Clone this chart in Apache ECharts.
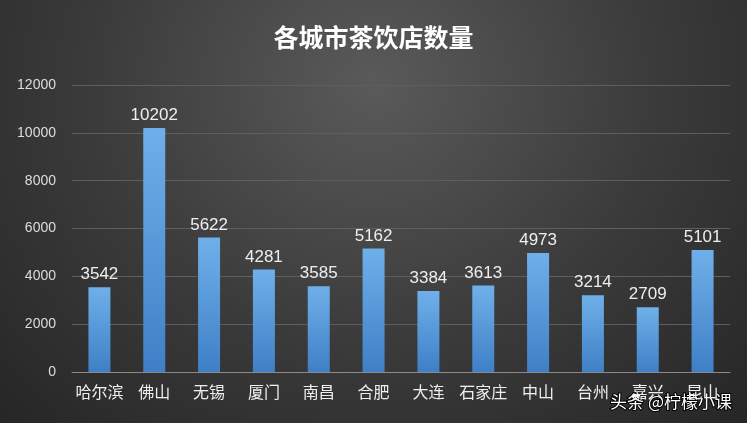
<!DOCTYPE html>
<html lang="zh-CN">
<head>
<meta charset="utf-8" />
<title>各城市茶饮店数量</title>
<script src="https://cdn.jsdelivr.net/npm/echarts@6/dist/echarts.min.js"></script>
<style>
html,body{margin:0;padding:0;}
#chart{width:747px;height:423px;background:radial-gradient(ellipse at 50% 20%,#5a5a5a 0%,#3a3a3a 55%,#262626 100%);}
</style>
</head>
<body>
<div id="chart"></div>
<script>
// 城市与门店数
const cities = ['哈尔滨', '佛山', '无锡', '厦门', '南昌', '合肥', '大连', '石家庄', '中山', '台州', '嘉兴', '昆山'];
const stores = [3542, 10202, 5622, 4281, 3585, 5162, 3384, 3613, 4973, 3214, 2709, 5101];

const chart = echarts.init(document.getElementById('chart'));
chart.setOption({
	title: {
		text: '各城市茶饮店数量',
		left: 'center',
		top: 20,
		textStyle: { color: '#fff', fontSize: 25, fontWeight: 'bold', fontFamily: 'Noto Sans CJK SC' }
	},
	grid: { left: 72, right: 17, top: 85, bottom: 51 },
	xAxis: {
		type: 'category',
		data: cities,
		axisTick: { show: false },
		axisLine: { lineStyle: { color: '#8a8a8a' } },
		axisLabel: { color: '#eee', fontSize: 16, margin: 12, interval: 0, fontFamily: 'Noto Sans CJK SC' }
	},
	yAxis: {
		type: 'value',
		min: 0,
		max: 12000,
		interval: 2000,
		axisLabel: { color: '#ddd', fontSize: 14, margin: 16, formatter: function (v) { return String(v); } },
		splitLine: { lineStyle: { color: '#5e5e5e' } }
	},
	series: [{
		type: 'bar',
		data: stores,
		barWidth: 22,
		itemStyle: {
			color: new echarts.graphic.LinearGradient(0, 0, 0, 1, [
				{ offset: 0, color: '#6fb0ea' },
				{ offset: 1, color: '#3f7fc6' }
			])
		},
		label: { show: true, position: 'top', color: '#eee', fontSize: 17, distance: 4 }
	}],
	graphic: [{
		type: 'text',
		right: 14,
		bottom: 12,
		style: { text: '头条 @柠檬小课', fill: '#fff', font: '17px "Noto Sans CJK SC"', stroke: '#000', lineWidth: 2 }
	}]
});
window.onresize = function () { chart.resize(); };
</script>
</body>
</html>
